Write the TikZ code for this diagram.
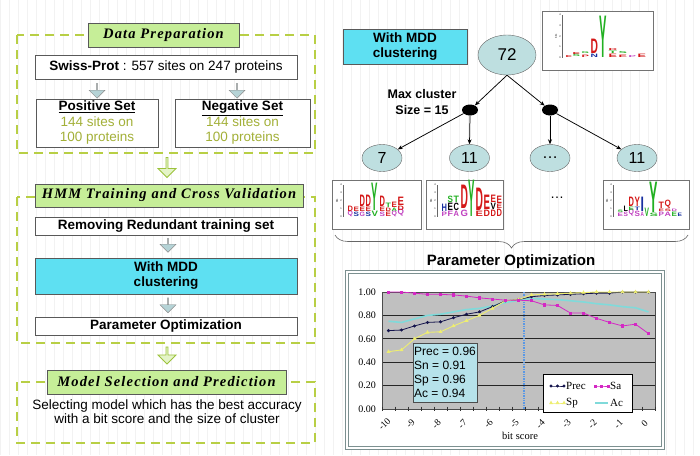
\documentclass[tikz,border=0pt]{standalone}
\usepackage{fontspec}
\setmainfont{Liberation Sans}
\newfontfamily\ttlfont{Liberation Serif}[LetterSpace=8]
\newfontfamily\xlsfont{Liberation Serif}
\usetikzlibrary{arrows.meta,positioning,shapes.geometric,shapes.arrows,decorations.pathreplacing,plotmarks}
\definecolor{ttlgreen}{HTML}{C6EE98}
\definecolor{dashgreen}{HTML}{B8CF45}
\definecolor{mddcyan}{HTML}{5EE0F2}
\definecolor{nodeblue}{HTML}{BEDFE0}
\definecolor{olivetxt}{HTML}{A3B038}
\definecolor{arrowgray}{HTML}{B5D3D6}
\definecolor{arrowgreen}{HTML}{9CC23C}
\definecolor{arrowgreenfill}{HTML}{E4F4C8}
\definecolor{plotgray}{HTML}{C0C0C0}
\definecolor{precC}{HTML}{14144C}
\definecolor{saC}{HTML}{D428C4}
\definecolor{spC}{HTML}{EEEE70}
\definecolor{acC}{HTML}{80DADA}
\definecolor{boxcyan}{HTML}{B6E2EA}
\definecolor{framegray}{HTML}{7C9090}
\definecolor{lgred}{HTML}{D41818}
\definecolor{lggreen}{HTML}{22B022}
\definecolor{lgblue}{HTML}{1830A0}
\definecolor{lgpurple}{HTML}{C040C0}
\newcommand{\logochr}[6]{\node[anchor=south west,inner sep=0pt,text=#5] at ({#1+0.3},{#2-0.3})
  {\resizebox{\dimexpr#3pt-0.6pt\relax}{\dimexpr#4pt-0.6pt\relax}{\bfseries #6}};}
\newcommand{\logoaxis}[3]{%
  \draw[black!60,line width=0.3pt] (#1,#2) -- (#1,#3);
  \foreach \n in {0,...,4}
    \node[font=\fontsize{2.5}{3}\selectfont,inner sep=0pt,anchor=east] at ({#1-1},{#3-(#3-#2)*\n/4}) {\n};
  \node[rotate=90,font=\fontsize{2.5}{3}\selectfont,inner sep=0pt] at ({#1-6},{(#2+#3)/2}) {bits};}

\begin{document}
\begin{tikzpicture}[x=1pt,y=-1pt,
  ttl/.style={draw=black!65,fill=ttlgreen,inner sep=0pt,
    font=\ttlfont\bfseries\itshape\fontsize{14.5}{16}\selectfont},
  stepbox/.style={draw=black!65,fill=white,minimum width=262pt,inner sep=0pt,
    font=\bfseries\fontsize{13.5}{15}\selectfont},
  grp/.style={draw=dashgreen,line width=1.8pt,dash pattern=on 9pt off 6pt},
  dnarrow/.style={single arrow,draw=black!45,fill=arrowgray,shape border rotate=270,
    minimum width=16pt,minimum height=15pt,single arrow head extend=3.5pt,inner sep=0pt},
  grnarrow/.style={dnarrow,draw=arrowgreen,fill=arrowgreenfill,line width=0.8pt,
    minimum width=18pt,minimum height=20pt,single arrow head extend=3.5pt},
  setbox/.style={draw=black!65,fill=white,minimum height=48pt,align=center,inner sep=0pt,
    font=\fontsize{13.5}{15.5}\selectfont},
  clus/.style={ellipse,draw=black!60,fill=nodeblue,inner sep=0pt,font=\fontsize{16}{16}\selectfont},
  split/.style={ellipse,fill=black,minimum width=16pt,minimum height=11pt,inner sep=0pt},
  tree/.style={-{Stealth[length=5pt,width=4pt]},line width=0.75pt},
  logobox/.style={draw=black!55,fill=white,inner sep=0pt},
  ylab/.style={font=\xlsfont\fontsize{10}{10}\selectfont,inner sep=0pt},
  xlab/.style={font=\xlsfont\fontsize{9.5}{10}\selectfont,inner sep=0pt,rotate=45},
  legtxt/.style={font=\xlsfont\fontsize{11}{11}\selectfont,inner sep=0pt,anchor=west}
]
\useasboundingbox (0,0) rectangle (700,455);
\fill[white] (0,0) rectangle (700,455);
\draw[black!5,line width=0.4pt] (0,0) grid[step=9] (700,455);

\draw[grp] (17,35) rectangle (315,153);
\node[ttl,minimum width=151pt,minimum height=24pt] (dataprep) at (163.5,35) {Data Preparation};
\node[stepbox,minimum height=24pt,font=\fontsize{13.5}{15}\selectfont] (swiss) at (166,67)
  {\textbf{Swiss-Prot} : 557 sites on 247 proteins};
\node[dnarrow] (a1) at (97,90.5) {};
\node[dnarrow] (a2) at (237,90.5) {};
\node[setbox,minimum width=122pt] (pos) at (97,123)
  {\textbf{\underline{Positive Set}}\\ \textcolor{olivetxt}{144 sites on}\\ \textcolor{olivetxt}{100 proteins}};
\node[setbox,minimum width=135pt] (neg) at (242.5,123)
  {\textbf{\underline{Negative Set}}\\ \textcolor{olivetxt}{144 sites on}\\ \textcolor{olivetxt}{100 proteins}};
\node[grnarrow] (g1) at (167,167) {};

\draw[grp] (17,197) rectangle (315,343);
\node[ttl,minimum width=268pt,minimum height=23pt] (hmm) at (169,195.5) {HMM Training and Cross Validation};
\node[stepbox,minimum height=18pt] (redund) at (166,226) {Removing Redundant training set};
\node[dnarrow,minimum height=14pt] (a3) at (168,245) {};
\node[stepbox,minimum height=36pt,fill=mddcyan,align=center] (mddl) at (166,276) {With MDD\\clustering};
\node[dnarrow] (a4) at (168,305) {};
\node[stepbox,minimum height=18pt] (paramopt) at (166,326) {Parameter Optimization};
\node[grnarrow,minimum height=17pt] (g2) at (167,355) {};

\draw[grp] (17,382) rectangle (315,443);
\node[ttl,minimum width=239pt,minimum height=24pt] (model) at (166.5,382) {Model Selection and Prediction};
\node[align=center,font=\fontsize{13.5}{14}\selectfont] (select) at (167,412)
  {Selecting model which has the best accuracy\\with a bit score and the size of cluster};

\node[draw=black!65,fill=mddcyan,minimum width=124pt,minimum height=35pt,align=center,
  font=\bfseries\fontsize{13.5}{15}\selectfont] (mddr) at (405,46.5) {With MDD\\clustering};
\node[clus,minimum width=58pt,minimum height=40pt,font=\fontsize{17}{17}\selectfont] (c72) at (507,55) {72};
\node[split] (s1) at (470,110) {};
\node[split] (s2) at (550,110) {};
\node[font=\bfseries\fontsize{12.5}{16}\selectfont,align=center] (maxc) at (422,102) {Max cluster\\Size = 15};
\node[clus,minimum width=40pt,minimum height=27pt] (c7) at (382,158) {7};
\node[clus,minimum width=40pt,minimum height=27pt] (c11a) at (469.5,158) {11};
\node[clus,minimum width=40pt,minimum height=27pt] (cdots) at (550,158) {…};
\node[clus,minimum width=40pt,minimum height=27pt] (c11b) at (637,158) {11};
\draw[tree] (c72.south) -- (s1);
\draw[tree] (c72.south) -- (s2);
\draw[tree] (s1) -- (c7);
\draw[tree] (s1.south) -- (c11a.north);
\draw[tree] (s2.south) -- (cdots.north);
\draw[tree] (s2) -- (c11b);

\node[logobox,minimum width=111pt,minimum height=59pt] (logo72) at (597.5,40.5) {};
\logoaxis{562}{15}{57.5}
\foreach \lx/\lb/\lw/\lh/\lc/\lt in {565/57.5/7/2.5/lgred/E, 572/57.5/8/3/lggreen/S, 572/54.5/8/2.5/lgred/E,
  581/57.5/8/3/lgred/P, 581/54.5/8/2.5/lggreen/G, 590/57.5/8/4/lgblue/N, 590/53.5/8/15/lgred/D,
  599/57.5/8/42/lggreen/Y, 608/57.5/9/4/lgred/E, 608/53.5/9/3/lggreen/T, 608/50.5/9/2.5/lgred/D,
  618/57.5/9/3/lgred/E, 618/54.5/9/2.5/lggreen/S, 628/57.5/8/2.5/lgpurple/P, 637/57.5/9/4/lgred/E}
  {\logochr{\lx}{\lb}{\lw}{\lh}{\lc}{\lt}}

\node[logobox,minimum width=89pt,minimum height=49pt] (logo7) at (376.5,204.5) {};
\logoaxis{343}{185}{217}
\foreach \lx/\lb/\lw/\lh/\lc/\lt in {347/217/6/5/lgpurple/Q, 347/212/6/6/lgred/D, 353/217/6/5/lgblue/S,
  353/212/6/5/lgred/E, 359/217/6/5/lgpurple/G, 359/212/6/5/lgred/E, 359/207/6/12/lgred/D,
  365/217/6/5/lgblue/S, 365/212/6/5/lgred/E, 365/207/6/12/lgred/D, 371/217/7/6/lggreen/V,
  371/211/7/28/lggreen/Y, 379/217/6/5/lgpurple/S, 379/212/6/5/lgred/E, 379/207/6/11/lgred/D,
  385/217/6/5/lgred/E, 385/212/6/4/lgred/D, 385/208/6/5/lggreen/T, 391/217/6/5/lgpurple/Q,
  391/212/6/4/lggreen/A, 391/208/6/6/lgred/E, 397/217/7/6/lgpurple/Q, 397/211/7/5/lgred/D,
  397/206/7/9/lgred/E}
  {\logochr{\lx}{\lb}{\lw}{\lh}{\lc}{\lt}}

\node[logobox,minimum width=77pt,minimum height=49pt] (logo11a) at (464.5,204.5) {};
\logoaxis{437}{185}{217}
\foreach \lx/\lb/\lw/\lh/\lc/\lt in {441/217/6/5/lgpurple/P, 441/212/6/8/lgblue/H, 447/217/6/6/lgpurple/F,
  447/211/6/8/black/E, 447/203/6/7/lggreen/S, 453/217/6/6/lgpurple/A, 453/211/6/8/black/C,
  453/203/6/7/lggreen/T, 460/217/8/7/lgpurple/G, 460/209/8/24/lgred/D, 468/217/7/37/lggreen/Y,
  475/217/8/6/lgred/E, 475/211/8/23/lgred/D, 483/217/7/7/lgred/D, 483/210/7/15/lgred/E,
  490/217/6/7/lgred/D, 490/210/6/7/black/V, 490/203/6/8/lgred/E, 496/217/6/8/lgred/D,
  496/209/6/5/lgred/E, 496/204/6/8/lgred/E}
  {\logochr{\lx}{\lb}{\lw}{\lh}{\lc}{\lt}}

\node[font=\fontsize{14}{14}\selectfont] (ldots) at (557,198) {…};

\node[logobox,minimum width=86pt,minimum height=49pt] (logo11b) at (646,204.5) {};
\logoaxis{613}{185}{217}
\foreach \lx/\lb/\lw/\lh/\lc/\lt in {617/217/6/4/lgpurple/E, 617/213/6/3/lggreen/S, 623/217/5/5/lgpurple/S,
  623/212/5/6/black/L, 628/217/6/6/lgpurple/Q, 628/211/6/4/lggreen/E, 628/207/6/10/lgred/D,
  634/217/6/6/lgpurple/S, 634/211/6/4/lgblue/T, 634/207/6/10/lgred/Y, 640/217/4/5/lgpurple/A,
  640/212/4/15/lgblue/I, 644/217/5/9/lggreen/V, 649/217/9/4/lggreen/S, 649/213/9/31/lggreen/Y,
  658/217/6/5/lgpurple/P, 658/212/6/3/lgred/E, 658/209/6/7/lgred/T, 664/217/7/5/lgpurple/A,
  664/212/7/3/lgred/S, 664/209/7/7/lgred/Q, 671/217/6/5/lggreen/E, 671/212/6/3/lgpurple/D,
  677/217/5/4/lgblue/E}
  {\logochr{\lx}{\lb}{\lw}{\lh}{\lc}{\lt}}

\draw[decorate,decoration={brace,mirror,amplitude=13pt},black!60,line width=0.6pt] (335,235) -- (688,235);
\node[font=\bfseries\fontsize{15}{17}\selectfont] (ptitle) at (511,262) {Parameter Optimization};

\node[draw=framegray,double=white,double distance=1.2pt,line width=1pt,fill=white,
  minimum width=316pt,minimum height=176pt] (chart) at (505,360) {};
\fill[plotgray] (382,292) rectangle (655,409);
\foreach \v in {0.2,0.4,0.6,0.8}
  \draw[black!85,line width=0.7pt] (382,{409-117*\v}) -- (655,{409-117*\v});
\draw[black!70] (382,292) rectangle (655,409);
\foreach \k in {0,...,21}
  \draw[black!80] ({382+13*\k},406.5) -- ({382+13*\k},411);
\foreach \v/\t in {0/0.00,0.2/0.20,0.4/0.40,0.6/0.60,0.8/0.80,1/1.00}
  \node[ylab] at (367,{409-117*\v}) {\t};
\foreach \k/\t in {0/-10,2/-9,4/-8,6/-7,8/-6,10/-5,12/-4,14/-3,16/-2,18/-1,20/0}
  \node[xlab] at ({388.5+13*\k-4},424) {\t};
\node[font=\xlsfont\fontsize{10.5}{11}\selectfont] (bits) at (520,436) {bit score};
\draw[acC!70!blue,densely dotted,line width=1.4pt] (524,292) -- (524,409);

\begin{scope}[shift={(388.5,409)},x=13pt,y=117pt]
\draw[acC,line width=1.6pt] plot coordinates {(0,.75) (1,.74) (2,.77) (3,.80) (4,.81) (5,.83) (6,.85)
  (7,.86) (8,.88) (9,.91) (10,.93) (11,.945) (12,.94) (13,.935) (14,.925) (15,.915) (16,.90) (17,.89)
  (18,.875) (19,.865) (20,.83)};
\draw[precC,line width=0.8pt] plot[mark=*,mark size=1.1pt] coordinates {(0,.67) (1,.675) (2,.71) (3,.74)
  (4,.745) (5,.78) (6,.81) (7,.83) (8,.875) (9,.925) (10,.935) (11,.96) (12,.97) (13,.975) (14,.98)
  (15,.985) (16,.99) (17,.99) (18,1) (19,1) (20,1)};
\draw[spC,line width=0.9pt] plot[mark=triangle*,mark size=1.4pt] coordinates {(0,.49) (1,.505) (2,.6)
  (3,.655) (4,.66) (5,.71) (6,.755) (7,.8) (8,.86) (9,.925) (10,.935) (11,.975) (12,.98) (13,.985)
  (14,.99) (15,.995) (16,1) (17,1) (18,1) (19,1) (20,1)};
\draw[saC,line width=0.8pt] plot[mark=square*,mark size=1.1pt] coordinates {(0,1) (1,1) (2,.99) (3,.98)
  (4,.98) (5,.975) (6,.965) (7,.95) (8,.94) (9,.93) (10,.93) (11,.925) (12,.89) (13,.885) (14,.82)
  (15,.82) (16,.775) (17,.74) (18,.71) (19,.725) (20,.645)};
\end{scope}

\node[draw=black!70,fill=boxcyan,minimum width=64pt,minimum height=59pt,align=left,inner sep=1pt,
  font=\fontsize{12}{14}\selectfont] (stats) at (445,372.5) {Prec = 0.96\\ Sn = 0.91\\ Sp = 0.96\\ Ac = 0.94};

\node[draw=black,fill=white,minimum width=89pt,minimum height=38pt] (legend) at (587.5,393) {};
\draw[precC,line width=0.8pt] plot[mark=*,mark size=1.1pt] coordinates {(551,386) (557.5,386) (564,386)};
\draw[saC,line width=0.8pt] plot[mark=square*,mark size=1.1pt] coordinates {(595,386) (601.5,386) (608,386)};
\draw[spC,line width=0.9pt] plot[mark=triangle*,mark size=1.4pt] coordinates {(551,403) (557.5,403) (564,403)};
\draw[acC,line width=1.6pt] (595,403) -- (608,403);
\node[legtxt] (lprec) at (566,386) {Prec};
\node[legtxt] (lsa) at (610,386) {Sa};
\node[legtxt] (lsp) at (566,403) {Sp};
\node[legtxt] (lac) at (610,403) {Ac};
\end{tikzpicture}
\end{document}
